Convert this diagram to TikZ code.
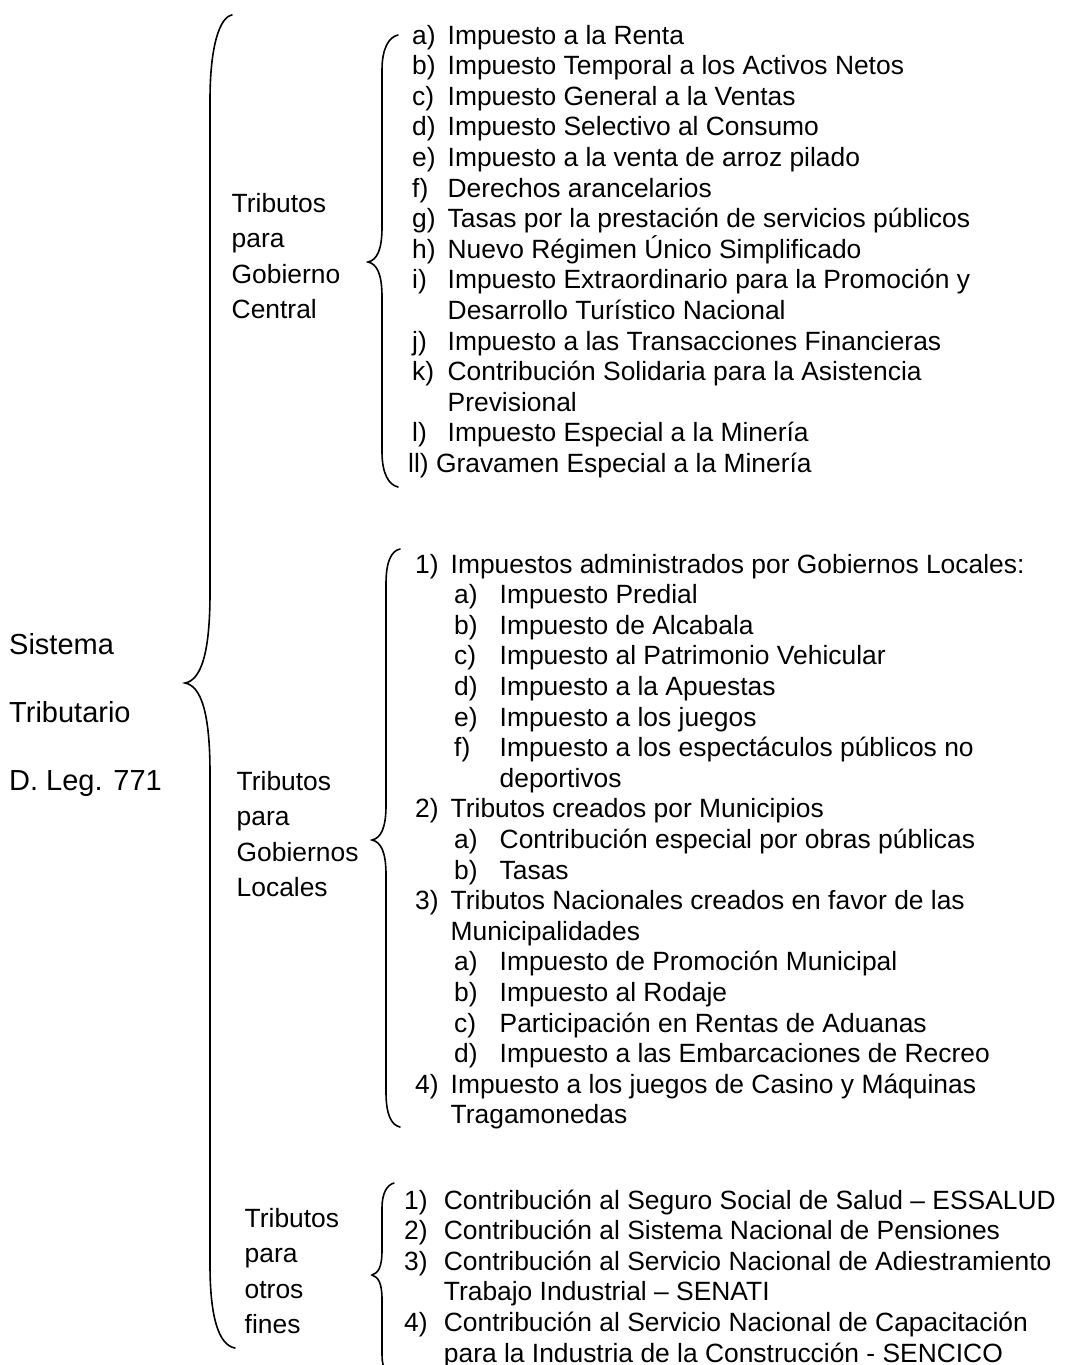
\documentclass[tikz,border=0pt]{standalone}
\usepackage{fontspec}
\setmainfont{Liberation Sans}
\usepackage{array}
\newcommand{\inciso}[1]{\makebox[49pt][l]{\hspace{3.5pt}#1}}
\begin{document}
\begin{tikzpicture}[x=1pt,y=-1pt,
  lista/.style={anchor=base west,inner sep=0pt,font=\fontsize{26.4}{30.6}\selectfont},
  grupo/.style={anchor=base west,inner sep=0pt,font=\fontsize{26.4}{35.5}\selectfont},
  titulo/.style={anchor=base west,inner sep=0pt,font=\fontsize{29}{68}\selectfont},
  llave/.style={line width=1.6pt,line cap=round}]
\useasboundingbox (0,0) rectangle (1067,1365);

        \node[titulo] (sistema) at (9,654) {\begin{tabular}[t]{@{}l@{}}Sistema\\Tributario\\D. Leg. 771\end{tabular}};

        \node[grupo] (central) at (231.5,212) {\begin{tabular}[t]{@{}l@{}}Tributos\\para\\Gobierno\\Central\end{tabular}};
        \node[grupo] (locales) at (236.5,790) {\begin{tabular}[t]{@{}l@{}}Tributos\\para\\Gobiernos\\Locales\end{tabular}};
        \node[grupo] (otros) at (244.5,1227) {\begin{tabular}[t]{@{}l@{}}Tributos\\para\\otros\\fines\end{tabular}};

        % lista del gobierno central
        \node[lista] (lcentral) at (412,44) {\begin{tabular}[t]{@{}p{35.5pt}@{}l@{}}
          a) & Impuesto a la Renta\\
          b) & Impuesto Temporal a los Activos Netos\\
          c) & Impuesto General a la Ventas\\
          d) & Impuesto Selectivo al Consumo\\
          e) & Impuesto a la venta de arroz pilado\\
          f) & Derechos arancelarios\\
          g) & Tasas por la prestación de servicios públicos\\
          h) & Nuevo Régimen \smash{Ú}nico Simplificado\\
          i) & Impuesto Extraordinario para la Promoción y\\
             & Desarrollo Turístico Nacional\\
          j) & Impuesto a las Transacciones Financieras\\
          k) & Contribución Solidaria para la Asistencia\\
             & Previsional\\
          l) & Impuesto Especial a la Minería\\
          \multicolumn{2}{@{}l@{}}{\hspace{-4pt}ll) Gravamen Especial a la Minería}
        \end{tabular}};

        % lista de gobiernos locales
        \node[lista] (llocales) at (415,573) {\begin{tabular}[t]{@{}p{35.5pt}@{}l@{}}
          1) & Impuestos administrados por Gobiernos Locales:\\
             & \inciso{a)}Impuesto Predial\\
             & \inciso{b)}Impuesto de Alcabala\\
             & \inciso{c)}Impuesto al Patrimonio Vehicular\\
             & \inciso{d)}Impuesto a la Apuestas\\
             & \inciso{e)}Impuesto a los juegos\\
             & \inciso{f)}Impuesto a los espectáculos públicos no\\
             & \inciso{}deportivos\\
          2) & Tributos creados por Municipios\\
             & \inciso{a)}Contribución especial por obras públicas\\
             & \inciso{b)}Tasas\\
          3) & Tributos Nacionales creados en favor de las\\
             & Municipalidades\\
             & \inciso{a)}Impuesto de Promoción Municipal\\
             & \inciso{b)}Impuesto al Rodaje\\
             & \inciso{c)}Participación en Rentas de Aduanas\\
             & \inciso{d)}Impuesto a las Embarcaciones de Recreo\\
          4) & Impuesto a los juegos de Casino y Máquinas\\
             & Tragamonedas
        \end{tabular}};

        % lista de otros fines
        \node[lista] (lotros) at (404,1209) {\begin{tabular}[t]{@{}p{39.7pt}@{}l@{}}
          1) & Contribución al Seguro Social de Salud – ESSALUD\\
          2) & Contribución al Sistema Nacional de Pensiones\\
          3) & Contribución al Servicio Nacional de Adiestramiento\\
             & Trabajo Industrial – SENATI\\
          4) & Contribución al Servicio Nacional de Capacitación\\
             & para la Industria de la Construcción - SENCICO
        \end{tabular}};

        % llaves
        \draw[llave] (232,15) .. controls (220,17) and (210,45) .. (210,100) -- (210,593)
          .. controls (210,650) and (202,680) .. (185,683)
          .. controls (202,686) and (210,716) .. (210,773) -- (210,1265)
          .. controls (210,1315) and (218,1345) .. (235,1348);
        \draw[llave] (398,35) .. controls (389,37) and (382,48) .. (382,70) -- (382,227)
          .. controls (382,250) and (377,260) .. (368,262)
          .. controls (377,264) and (382,274) .. (382,297) -- (382,452)
          .. controls (382,474) and (389,485) .. (398,487);
        \draw[llave] (400,549) .. controls (391,551) and (386,562) .. (386,584) -- (386,805)
          .. controls (386,828) and (381,838) .. (372,840)
          .. controls (381,842) and (386,852) .. (386,875) -- (386,1092)
          .. controls (386,1114) and (391,1125) .. (400,1127);
        \draw[llave] (394,1183) .. controls (387,1185) and (382,1193) .. (382,1208) -- (382,1250)
          .. controls (382,1268) and (378,1273) .. (372,1275)
          .. controls (378,1277) and (382,1282) .. (382,1300) -- (382,1355)
          .. controls (382,1370) and (388,1378) .. (396,1380);
      \end{tikzpicture}
\end{document}
